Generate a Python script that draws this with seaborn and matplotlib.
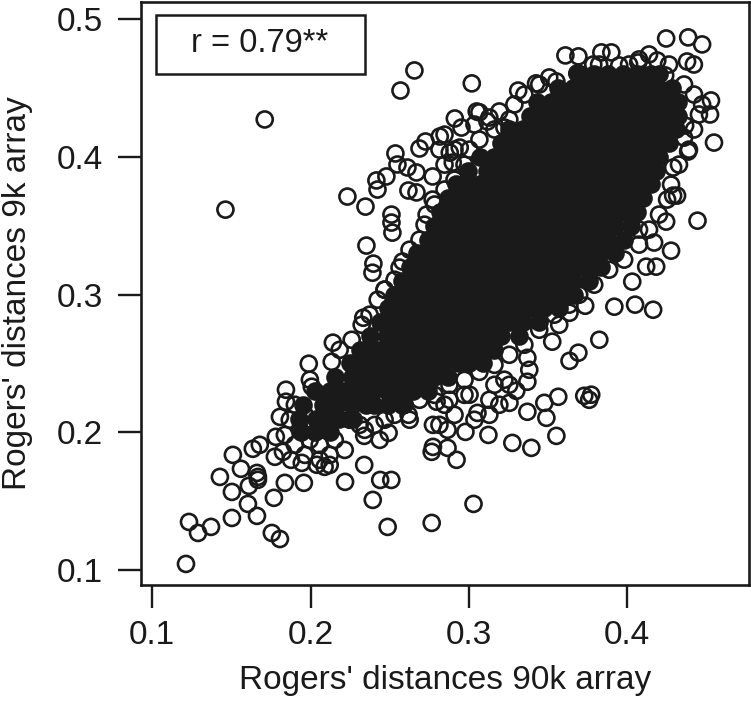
import matplotlib
matplotlib.use("Agg")
import matplotlib.pyplot as plt
from matplotlib.patches import Rectangle
import pandas as pd
import seaborn as sns

x_label = "Rogers' distances 90k array"
y_label = "Rogers' distances 9k array"
x_ticks = [0.1, 0.2, 0.3, 0.4]
y_ticks = [0.1, 0.2, 0.3, 0.4, 0.5]
note = "r = 0.79**"

# Individually legible accessions (open rings)
ring_x = [.1214,.1233,.129,.1372,.1504,.1662,.1605,.1504,.1769,.1756,.1807,.1838,.1958,.1428,.151,.1561,.1611,.1662,.1668,.1668,
          .1636,.168,.1781,.1775,.1826,.1877,.1945,.2218,.2339,.244,.251,.2393,.2487,.2765,.2089,.204,.1807,.1845,.1845,.1989,
          .1996,.2008,.2141,.2339,.2437,.2493,.2619,.2773,.2765,.2773,.2796,.1711,.1463,.2568,.2656,.3018,.2233,.2347,.2423,.2416,
          .2479,.2536,.2549,.2612,.2669,.2618,.2669,.2688,.2726,.2511,.2511,.2517,.2353,.2397,.2391,.2467,.2733,.2771,.2816,.2911,
          .3049,.2879,.2942,.2898,.2771,.2581,.2333,.3311,.3424,.3609,.3691,.3836,.3899,.3949,.3684,.3785,.4069,.4189,.4239,.4245,
          .4384,.4472,.4377,.442,.4528,.4472,.4522,.4547,.4384,.4365,.4358,.4289,.4289,.4314,.4245,.4443,.4276,.4169,.4074,.3552,
          .3066,.3117,.3224,.4182,.4119,.4031,.3918,.4049,.4163,.3823,.3691,.3635,.3564,.3476,.3369,.3489,.3552,.3274,.3394,.3123,
          .2978,.2865,.2865,.2922,.3728,.3759,.3772,.3054,.3256,.3299,.3369,.3224,.3369,.3526,.357,.3734,.3635,.3029,.2626,.2846,
          .3004,.3161]
ring_y = [.1044,.1349,.1269,.1313,.1378,.1393,.148,.1567,.1524,.1269,.1225,.1633,.1633,.1676,.1836,.1735,.1611,.1705,.1676,.1655,
          .188,.1909,.1967,.1822,.1858,.18,.1778,.164,.1763,.1654,.1654,.1509,.1313,.1342,.1749,.1764,.2112,.2309,.2222,.2498,
          .2382,.2331,.2651,.1974,.1945,.1996,.2127,.2054,.1858,.1894,.2222,.4272,.3617,.4482,.4628,.4534,.3712,.3639,.3763,.3829,
          .3858,.4025,.3945,.3923,.3887,.3756,.3742,.4061,.4112,.3581,.3523,.345,.3356,.3225,.3159,.3036,.3581,.3858,.4148,.4279,
          .433,.4031,.4068,.3959,.369,.324,.2832,.4482,.4534,.4737,.473,.4759,.4759,.4664,.4606,.4671,.4686,.47,.4592,.486,
          .4868,.4817,.4693,.4671,.441,.4381,.4308,.4104,.4039,.4228,.414,.3923,.3719,.3719,.353,.3537,.3319,.3378,.3472,.4548,
          .4324,.4257,.4213,.3203,.3203,.3094,.2912,.2927,.289,.2672,.2578,.2519,.2258,.2214,.2149,.2105,.1974,.1923,.1887,.1981,
          .2003,.2018,.1887,.18,.2265,.2236,.2273,.2141,.2214,.2301,.2367,.2382,.2541,.2658,.2781,.2919,.2868,.148,.2091,.22,
          .2273,.2345]

# Rings crowding the margin of the cloud
edge_x = [.2846,.2953,.3035,.3129,.3192,.3287,.335,.3444,.3507,.3003,.2909,.2846,.2814,.2972,.3066,.3161,.3255,.2909,.2846,.2783,
          .272,.2688,.2625,.2562,.2531,.2468,.2424,.2373,.2323,.226,.2184,.2134,
          .1901,.1964,.2027,.209,.2153,.2216,.2058,.2121,.1932,.1995,.2247,.231,.2184,.1869,.1838,.1901,.1964,.2058,.2121,
          .2342,.2405,.2468,.2531,.2594,.2688,.2783,.2877,.2972,.3066,.3161,.3255,.335,.3444,.3539,.3633,.3696,.3791,.3885,
          .398,.4074,.4137,.42,.4251,.4276,.4326,.4389,.4421,.4452,.4074,.4137,.4263,.4358,.4421,.4011,.3822,.3696,
          .2877,.2972,.3129,.3255,.3381,.3035,.3129,.3192,.2909,.2814]
edge_y = [.4162,.4213,.4235,.4286,.433,.4381,.4453,.4526,.4577,.4053,.4053,.3944,.4053,.3944,.4126,.4199,.4272,.3835,.3763,.3654,
          .3508,.3399,.3326,.3196,.3108,.3036,.2963,.2854,.2781,.2672,.2599,.2512,
          .22,.2127,.2054,.2018,.1945,.1872,.1909,.1836,.2018,.1945,.2091,.2054,.2163,.2091,.1981,.1909,.1836,.18,.1763,
          .2018,.2054,.2091,.2127,.22,.2236,.2272,.2345,.2381,.2439,.249,.2563,.2636,.2745,.2854,.2927,.2999,.3072,.3181,
          .3254,.3363,.3472,.3581,.369,.3799,.3944,.4053,.4199,.4308,.4708,.4744,.4671,.4526,.4453,.4671,.4671,.4599,
          .2236,.2272,.2236,.2345,.2454,.2091,.2127,.22,.2127,.2054]

# Saturated centre of the cloud, read row by row (9k distance level, then 90k distances)
core_levels = [.46,.45,.44,.43,.42,.41,.40,.39,.38,.37,.36,.35,.34,.33,.32,.31,.30,.29,.28,.27,.26,.25,.24,.23,.22,.21,.20]
core_rows = [
    [.370,.379,.388,.397,.406,.415,.420],
    [.3565,.3655,.3745,.3835,.3925,.4015,.4105,.4195,.4285],
    [.343,.352,.361,.370,.379,.388,.397,.406,.415,.424,.432],
    [.3385,.3475,.3565,.3655,.3745,.3835,.3925,.4015,.4105,.4195,.4285,.432],
    [.325,.334,.343,.352,.361,.370,.379,.388,.397,.406,.415,.424,.431],
    [.3205,.3295,.3385,.3475,.3565,.3655,.3745,.3835,.3925,.4015,.4105,.4195,.426],
    [.307,.316,.325,.334,.343,.352,.361,.370,.379,.388,.397,.406,.415,.420],
    [.2995,.3115,.3205,.3295,.3385,.3475,.3565,.3655,.3745,.3835,.3925,.4015,.4105,.418],
    [.292,.298,.307,.316,.325,.334,.343,.352,.361,.370,.379,.388,.397,.406,.415],
    [.2865,.2935,.3025,.3115,.3205,.3295,.3385,.3475,.3565,.3655,.3745,.3835,.3925,.4015,.410],
    [.2815,.289,.298,.307,.316,.325,.334,.343,.352,.361,.370,.379,.388,.397,.406],
    [.278,.2845,.2935,.3025,.3115,.3205,.3295,.3385,.3475,.3565,.3655,.3745,.3835,.3925,.402],
    [.274,.280,.289,.298,.307,.316,.325,.334,.343,.352,.361,.370,.379,.388,.398],
    [.2675,.2755,.2845,.2935,.3025,.3115,.3205,.3295,.3385,.3475,.3565,.3655,.3745,.3835,.392],
    [.2625,.271,.280,.289,.298,.307,.316,.325,.334,.343,.352,.361,.370,.379,.3835],
    [.2575,.2665,.2755,.2845,.2935,.3025,.3115,.3205,.3295,.3385,.3475,.3565,.3655,.376],
    [.253,.262,.271,.280,.289,.298,.307,.316,.325,.334,.343,.352,.361,.3665],
    [.2487,.2575,.2665,.2755,.2845,.2935,.3025,.3115,.3205,.3295,.3385,.3475,.357],
    [.2436,.253,.262,.271,.280,.289,.298,.307,.316,.325,.334,.3444],
    [.2373,.2485,.2575,.2665,.2755,.2845,.2935,.3025,.3115,.3205,.3318],
    [.231,.235,.244,.253,.262,.271,.280,.289,.298,.307,.316],
    [.2247,.2305,.2395,.2485,.2575,.2665,.2755,.2845,.2935,.300,.309],
    [.2153,.226,.235,.244,.253,.262,.271,.278,.287],
    [.2027,.2125,.2215,.2305,.2395,.2485,.256,.265,.274],
    [.195,.208,.217,.226,.235,.240,.249,.258],
    [.193,.2035,.2125,.218,.227],
    [.194,.203,.212],
]

ink = "#1a1a1a"
sns.set_theme(style="white")
plt.rcParams["font.family"] = ["Liberation Sans", "DejaVu Sans"]

rings = pd.DataFrame({"x": ring_x + edge_x, "y": ring_y + edge_y})
core = pd.DataFrame(
    [(x, lvl) for lvl, row in zip(core_levels, core_rows) for x in row], columns=["x", "y"]
)

fig = plt.figure(figsize=(7.51, 7.01), dpi=100)
ax = fig.add_axes([141 / 751, 1 - 585 / 701, 608 / 751, 583 / 701])

sns.scatterplot(data=core, x="x", y="y", ax=ax, s=133, marker="o",
                facecolor=ink, edgecolor=ink, linewidth=1.9, legend=False)
sns.scatterplot(data=rings, x="x", y="y", ax=ax, s=133, marker="o",
                facecolor="none", edgecolor=ink, linewidth=1.9, legend=False)

ax.set_xlim(0.0930, 0.4768)
ax.set_ylim(0.0891, 0.5125)
ax.set_xticks(x_ticks)
ax.set_yticks(y_ticks)
ax.set_xticklabels([f"{v:.1f}" for v in x_ticks])
ax.set_yticklabels([f"{v:.1f}" for v in y_ticks])
ax.tick_params(axis="both", direction="out", length=16.5, width=1.7, color=ink,
               labelcolor=ink, labelsize=24, bottom=True, left=True)
ax.tick_params(axis="x", pad=9)
ax.tick_params(axis="y", pad=11)
for side in ax.spines.values():
    side.set_visible(True)
    side.set_linewidth(1.9)
    side.set_color(ink)

ax.set_xlabel(x_label, fontsize=24, color=ink)
ax.set_ylabel(y_label, fontsize=24, color=ink)
ax.xaxis.set_label_coords(0.5, -0.137)
ax.yaxis.set_label_coords(-0.178, 0.5)

ax.add_patch(Rectangle((0.1025, 0.4599), 0.1317, 0.043, facecolor="white",
                       edgecolor=ink, linewidth=1.8, zorder=5))
ax.text(0.1025 + 0.1305 / 2, 0.4825, note, ha="center", va="center",
        fontsize=23.5, color=ink, zorder=6)

fig.savefig("out.png", dpi=100)
